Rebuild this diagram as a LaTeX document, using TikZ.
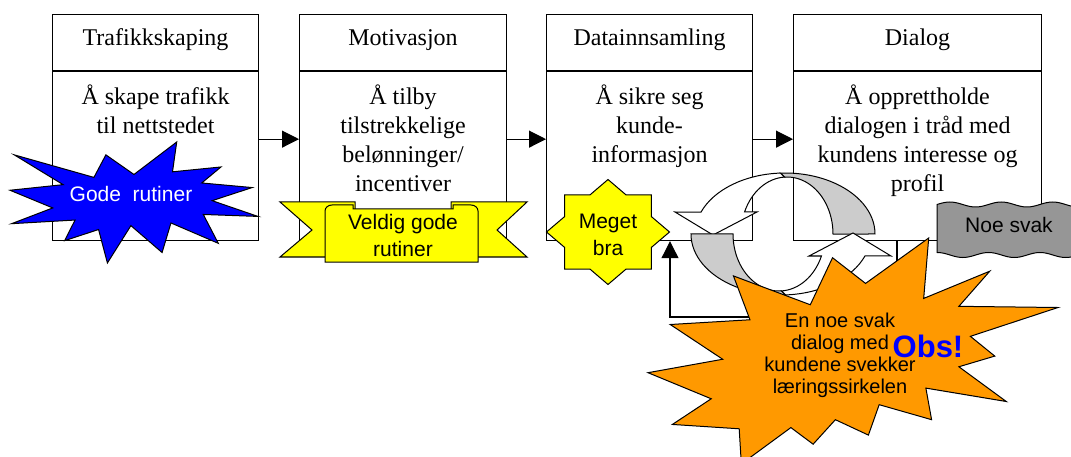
\documentclass[tikz,border=0pt]{standalone}
\usepackage{fontspec}
\setmainfont{Liberation Serif}
\newfontfamily\arialf{Liberation Sans}
\usetikzlibrary{arrows.meta,calc}
\definecolor{burstblue}{RGB}{0,0,255}
\definecolor{burstorange}{RGB}{255,153,0}
\definecolor{markyellow}{RGB}{255,255,0}
\definecolor{wavegray}{RGB}{150,150,150}
\definecolor{ringgray}{RGB}{204,204,204}

\begin{document}
\begin{tikzpicture}[x=1pt,y=-1pt,line width=1.1pt,
  hdr/.style={draw,rectangle,anchor=north west,minimum height=56pt,inner sep=0pt,
    text height=16pt,text depth=10pt,font=\fontsize{24}{29}\selectfont},
  bodybox/.style={draw,rectangle,anchor=north west,minimum height=169pt,inner sep=0pt},
  bodytext/.style={anchor=north,align=center,inner sep=0pt,font=\fontsize{24}{29}\selectfont},
  flow/.style={-{Triangle[length=17pt,width=17pt]}},
  sanslabel/.style={align=center,inner sep=0pt,font=\arialf\fontsize{21}{27}\selectfont},
  outline/.style={draw=black,line width=1pt,line join=miter},
]
\useasboundingbox (0,0) rectangle (1071,457);
\clip (0,0) rectangle (1071,457);
\fill[white] (0,0) rectangle (1071,457);

% --- the four process steps ---
\node[hdr,minimum width=206pt] (h1) at (52,14) {Trafikkskaping};
\node[bodybox,minimum width=206pt] (b1) at (h1.south west) {};
\node[hdr,minimum width=207pt] (h2) at (299,14) {Motivasjon};
\node[bodybox,minimum width=207pt] (b2) at (h2.south west) {};
\node[hdr,minimum width=206pt] (h3) at (546,14) {Datainnsamling};
\node[bodybox,minimum width=206pt] (b3) at (h3.south west) {};
\node[hdr,minimum width=248pt] (h4) at (793,14) {Dialog};
\node[bodybox,minimum width=248pt] (b4) at (h4.south west) {};

\node[bodytext] (t1) at ($(b1.north)+(0,13)$) {Å skape trafikk\\til nettstedet};
\node[bodytext] (t2) at ($(b2.north)+(0,13)$) {Å tilby\\tilstrekkelige\\belønninger/\\incentiver};
\node[bodytext] (t3) at ($(b3.north)+(0,13)$) {Å sikre seg\\kunde-\\informasjon};
\node[bodytext] (t4) at ($(b4.north)+(0,13)$) {Å opprettholde\\dialogen i tråd med\\kundens interesse og\\profil};

% --- flow between the steps ---
\draw[flow] ($(b1.north east)!0.4!(b1.south east)$) -- ($(b2.north west)!0.4!(b2.south west)$);
\draw[flow] ($(b2.north east)!0.4!(b2.south east)$) -- ($(b3.north west)!0.4!(b3.south west)$);
\draw[flow] ($(b3.north east)!0.4!(b3.south east)$) -- ($(b4.north west)!0.4!(b4.south west)$);

% --- feedback from Dialog back to Datainnsamling ---
\coordinate (fbs) at ($(b4.south west)+(104,0)$);
\coordinate (fbe) at ($(b3.south west)+(124,0)$);
\coordinate (fblow) at (0,317);
\draw[flow] (fbs) -- (fbs |- fblow) -| (fbe);

% --- learning cycle: two curved arrows ---
\begin{scope}[shift={(783,234)},yscale=-1]
  \foreach \turn in {0,180}{
    \begin{scope}[rotate=\turn]
      \filldraw[outline,fill=ringgray] (92,0)
        arc[start angle=0,end angle=93,x radius=90,y radius=61]
        -- (1.59,56.92)
        arc[start angle=93,end angle=0,x radius=46,y radius=57] -- cycle;
      \filldraw[outline,fill=white] (-2.71,60.92)
        arc[start angle=93,end angle=158.9,x radius=90,y radius=61]
        -- (-108,22) -- (-70,-1) -- (-26,22) -- (-38.44,22)
        arc[start angle=157.3,end angle=93,x radius=46,y radius=57] -- cycle;
    \end{scope}
  }
\end{scope}

% --- burst on Trafikkskaping ---
\begin{scope}[shift={(10,142)},x=1.148pt,y=-0.560pt]
  \filldraw[outline,fill=burstblue] (108,58) -- (145.22,0) -- (141.55,53.25) -- (183.80,44.57)
    -- (167.02,73.15) -- (210.97,81.37) -- (176.07,104.75) -- (216,132.90) -- (168.37,129.42)
    -- (181.45,180.95) -- (140.20,144.57) -- (132.47,197.37) -- (105.32,149.35) -- (84.85,216)
    -- (77.15,156.27) -- (47.62,176.17) -- (56.67,139.37) -- (1.35,145.87) -- (37.22,117.75)
    -- (0,86.15) -- (46.27,76.17) -- (3.70,22.95) -- (73.12,63.20) -- (83.52,22.95) -- cycle;
\end{scope}
\node[sanslabel,text=white] (gode) at (131,194) {Gode~ rutiner};

% --- ribbon on Motivasjon ---
\filldraw[outline,fill=markyellow] (280,202) -- (355,202) -- (355,257) -- (280,257) -- (312,230) -- cycle;
\filldraw[outline,fill=markyellow] (527,202) -- (451,202) -- (451,257) -- (527,257) -- (497,230) -- cycle;
\filldraw[outline,fill=markyellow] (325,262) -- (325,211) to[out=90,in=180] (332,205) -- (353,205)
  -- (353,209) -- (453,209) -- (453,205) -- (471,205) to[out=0,in=90] (478,211) -- (478,262) -- cycle;
\node[sanslabel] (veldig) at (403,235) {Veldig gode\\rutiner};

% --- seal on Datainnsamling ---
\begin{scope}[shift={(608,232)}]
  \filldraw[outline,fill=markyellow] (0:61.5 and 52.5)
    \foreach \a in {22.5,67.5,...,337.5}{ -- (\a:47 and 40.2) -- (\a+22.5:61.5 and 52.5) } -- cycle;
\end{scope}
\node[sanslabel] (meget) at (608,235) {Meget\\bra};

% --- flag on Dialog ---
\filldraw[outline,fill=wavegray] (937,205)
  -- plot[domain=937:1085,samples=70] (\x,{204.5-2.5*sin(7*(\x-937))})
  -- (1085,256)
  -- plot[domain=1085:937,samples=70] (\x,{255+2.5*sin(7*(\x-950))}) -- cycle;
\node[sanslabel] (svak) at (1009,225) {Noe svak};

% --- warning burst ---
\begin{scope}[shift={(648,238)},x=1.898pt,y=-1.046pt]
  \filldraw[outline,fill=burstorange] (114.62,43.42) -- (147.90,0) -- (145.25,57.77) -- (180.07,31.72)
    -- (163.80,65.32) -- (216,66.45) -- (169.85,94.02) -- (182.70,112.90) -- (163.80,123.10)
    -- (188.77,156.32) -- (146.40,143.50) -- (149.42,173.70) -- (121.80,159.35) -- (116.12,188.42)
    -- (98.72,173.70) -- (87,197.12) -- (75.27,181.25) -- (49.17,216) -- (48.05,182.40)
    -- (12.85,178.25) -- (33.30,153.70) -- (0,128.77) -- (39.35,115.92) -- (11.72,82.70)
    -- (53.72,78.17) -- (45.02,36.25) -- (85.50,63.82) -- (97.22,18.87) -- cycle;
\end{scope}
\node[align=center,inner sep=0pt,font=\arialf\fontsize{20}{22}\selectfont] (warn) at (840,355)
  {En noe svak\\dialog med\\kundene svekker\\læringssirkelen};
\node[inner sep=0pt,text=burstblue,font=\arialf\bfseries\fontsize{31}{31}\selectfont] (obs) at (928,346) {Obs!};
\end{tikzpicture}
\end{document}
